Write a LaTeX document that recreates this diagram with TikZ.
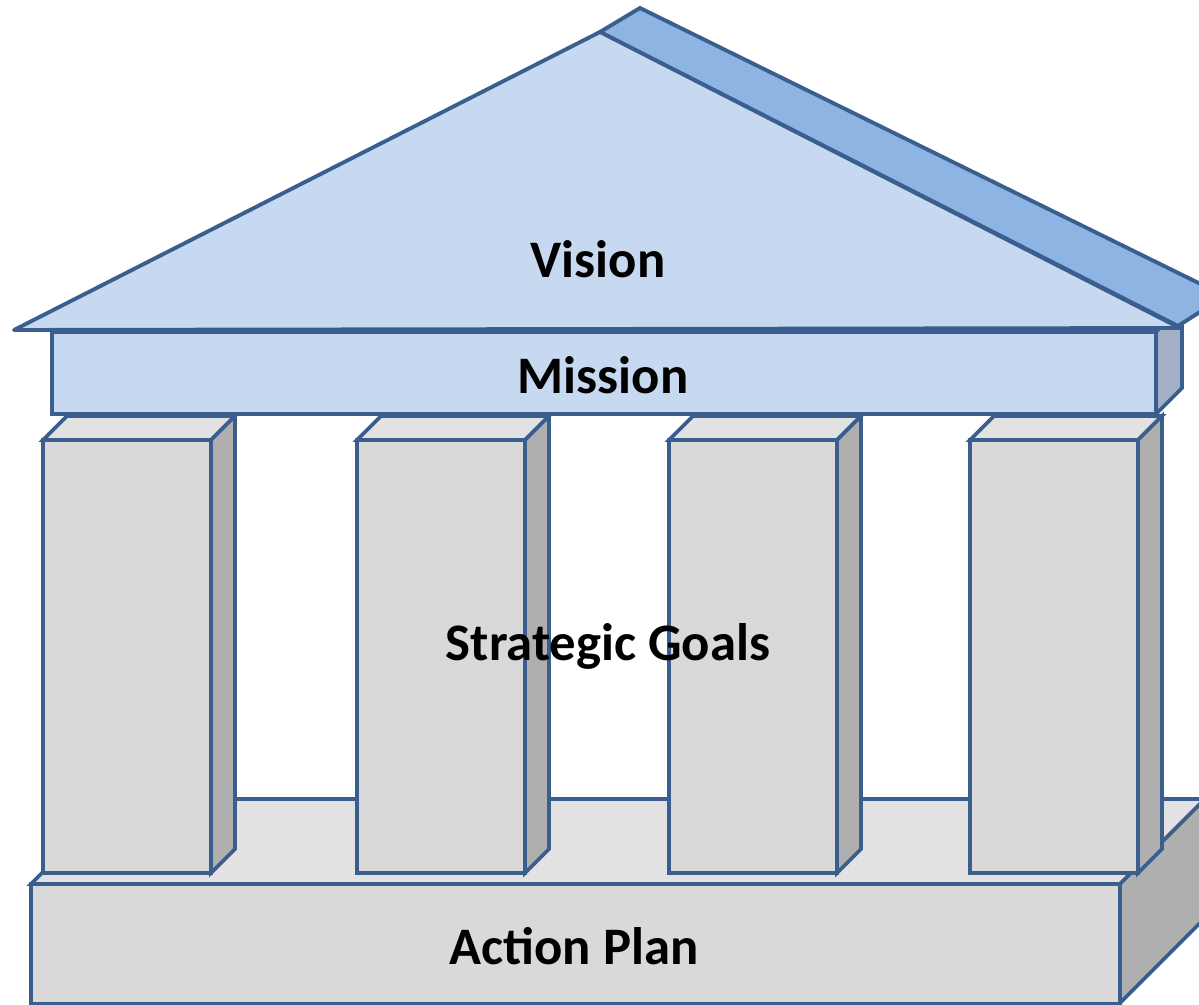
\documentclass[tikz,border=0pt]{standalone}
\usepackage{fontspec}
\setmainfont{Carlito}
\definecolor{edgeblue}{HTML}{3A5F8F}
\definecolor{roofblue}{HTML}{C6D9F1}
\definecolor{stripblue}{HTML}{8EB4E3}
\definecolor{missionside}{HTML}{A2AFC5}
\definecolor{frontgray}{HTML}{D9D9D9}
\definecolor{topgray}{HTML}{E2E2E2}
\definecolor{sidegray}{HTML}{AFAFAF}
\tikzset{
  edge/.style={draw=edgeblue, line width=2.2pt},
  label/.style={font=\bfseries\fontsize{30}{36}\selectfont}
}
\begin{document}
\begin{tikzpicture}[x=0.2cm, y=-0.2cm, every node/.style={label}]
            \useasboundingbox (0,0) rectangle (119.9,100.5);
            \clip (0,0) rectangle (119.9,100.5);

            % base
            \draw[edge, fill=topgray] (3.1,88.4) -- (11.6,79.9) -- (120.5,79.9) -- (112,88.4) -- cycle;
            \draw[edge, fill=sidegray] (112,88.4) -- (120.5,79.9) -- (120.5,91.8) -- (112,100.3) -- cycle;
            \draw[edge, fill=frontgray] (3.1,88.4) rectangle (112,100.4);

            % pillars
            \foreach \x in {4.3, 35.7, 66.9, 97.0} {
                \draw[edge, fill=topgray] (\x,44) -- ++(2.4,-2.4) -- ++(16.8,0) -- ++(-2.4,2.4) -- cycle;
                \draw[edge, fill=sidegray] (\x+16.8,44) -- ++(2.4,-2.4) -- ++(0,43.3) -- ++(-2.4,2.4) -- cycle;
                \draw[edge, fill=frontgray] (\x,44) rectangle ++(16.8,43.3);
            }

            % mission
            \draw[edge, fill=missionside] (115.6,33.2) -- (118.2,30.6) -- (118.2,38.8) -- (115.6,41.4) -- cycle;
            \draw[edge, fill=roofblue] (5.2,33.2) rectangle (115.6,41.4);

            % roof
            \draw[edge, fill=stripblue] (60,3.2) -- (64,0.8) -- (122.5,29.6) -- (117.8,32.6) -- cycle;
            \draw[edge, fill=roofblue, line join=round] (1.4,33) -- (60,3.2) -- (118,32.8) -- cycle;

            \node (vision) at (59.8,25.9) {Vision};
            \node (mission) at (60.3,37.5) {Mission};
            \node (goals) at (60.8,64.6) {Strategic Goals};
            \node (action) at (57.4,94.6) {Action Plan};

        \end{tikzpicture}
\end{document}
